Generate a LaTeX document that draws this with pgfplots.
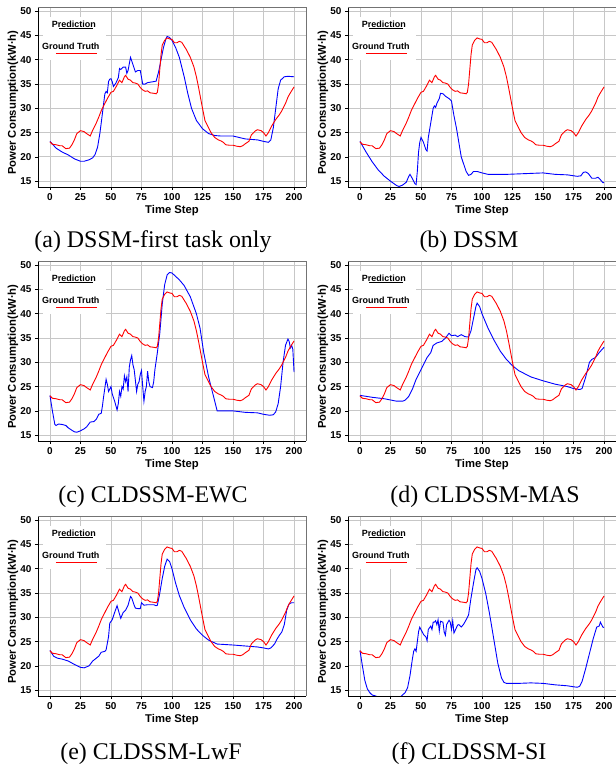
\documentclass[border=0pt]{standalone}
\usepackage{fontspec}
\setmainfont{Liberation Sans}
\newfontfamily\capfont{Liberation Serif}
\usepackage{pgfplots}
\usepackage{pgfplotstable}
\pgfplotsset{compat=1.18}

% ground truth, the same in every panel
\pgfplotstableread{
t v
0 23.1
2 22.6
5 22.5
8 22.3
10 22.3
13 21.7
16 21.8
18 22.5
20 23.5
22 24.8
25 25.4
28 25.2
30 24.8
33 24.3
35 25.5
38 27.0
40 28.2
42 29.5
45 31.0
47 32.0
50 33.3
52 33.5
55 34.8
57 35.8
59 35.3
61 36.5
62 36.8
64 36.0
66 35.8
68 35.3
70 35.2
72 35.0
74 34.3
76 33.8
78 33.5
80 33.6
82 33.2
85 33.1
87 33.0
88 33.3
89 35.0
90 38.0
91 41.0
92 43.0
94 44.0
96 44.5
98 44.3
100 44.2
102 43.5
104 43.5
106 43.8
108 43.6
110 42.8
112 42.0
115 40.5
118 38.5
120 36.5
122 34.0
125 30.0
127 27.5
130 26.0
132 25.0
135 24.0
138 23.5
140 23.3
142 23.0
144 22.5
147 22.4
150 22.4
153 22.2
156 22.1
158 22.3
160 22.7
163 23.2
165 24.5
168 25.3
170 25.6
173 25.4
175 25.0
177 24.3
179 25.0
182 26.5
185 27.7
188 28.7
190 29.5
193 31.0
195 32.3
197 33.2
200 34.4
}\truth

\pgfplotstableread{
t v
0 23.2
5 21.8
10 21.0
15 20.4
20 19.6
25 19.1
28 19.1
32 19.4
35 19.8
37 20.5
39 22.0
41 25.0
43 29.0
45 33.0
46 33.5
47 33.2
48 35.5
49 36.0
50 36.1
51 35.5
52 34.5
54 35.2
56 36.3
57 38.2
58 38.0
60 38.5
62 38.5
63 37.2
64 37.8
66 40.5
68 39.0
70 37.5
72 37.8
74 37.8
76 35.0
78 35.0
80 35.3
85 35.5
87 35.6
89 37.5
91 40.0
93 42.5
95 44.3
96 44.8
98 44.6
100 44.0
103 42.5
106 40.5
110 36.5
113 33.0
116 30.0
120 27.5
125 25.8
130 24.8
135 24.4
140 24.3
150 24.3
155 24.0
160 23.7
170 23.5
175 23.2
179 23.0
181 23.5
183 26.0
185 30.0
187 34.0
189 35.8
192 36.5
195 36.6
200 36.5
}\predA

\pgfplotstableread{
t v
0 23.2
5 21.0
10 19.0
15 17.3
20 16.0
25 15.0
30 14.1
32 13.9
35 14.2
38 14.8
40 16.0
41 16.4
43 15.5
45 14.5
46 14.3
47 17.0
48 21.0
49 23.0
50 24.0
52 23.0
54 21.5
55 21.2
56 24.0
58 27.0
60 30.0
61 30.5
62 30.2
63 31.0
65 32.0
66 33.1
68 33.0
70 32.5
73 32.0
75 31.5
77 28.5
79 26.0
81 23.0
83 20.0
85 18.5
87 17.0
89 16.2
91 16.4
93 17.0
96 17.0
100 16.7
105 16.4
120 16.4
150 16.7
160 16.4
170 16.3
178 16.0
181 16.1
183 16.8
185 16.9
187 16.6
190 15.6
193 15.6
195 15.8
197 15.3
199 14.7
200 14.7
}\predB

\pgfplotstableread{
t v
0 23.2
2 20.0
4 17.2
5 17.0
7 17.3
10 17.2
13 17.0
15 16.5
18 16.0
20 15.7
22 15.6
25 15.9
28 16.3
30 16.7
33 17.7
36 17.8
38 18.3
40 19.3
42 19.5
43 21.0
44 23.0
46 26.5
47 25.5
48 24.0
49 24.5
50 25.0
51 23.5
53 22.0
55 20.2
56 21.5
57 24.0
58 23.0
59 25.0
60 24.5
61 27.2
62 26.0
63 27.0
64 24.0
65 29.0
66 30.5
67 31.4
68 29.5
69 28.5
71 24.0
72 25.5
73 26.0
74 27.5
75 28.3
76 25.0
77 22.0
78 24.0
79 25.0
80 28.2
81 26.0
82 25.0
84 24.8
85 26.0
86 28.5
88 32.0
90 36.0
92 42.0
94 46.0
96 48.0
98 48.5
100 48.4
103 47.7
106 47.0
110 45.8
115 43.5
120 40.0
123 37.0
126 32.0
130 27.0
134 23.0
137 20.0
140 20.0
150 20.0
160 19.7
170 19.6
175 19.3
180 19.1
183 19.2
185 19.8
187 21.5
189 25.0
191 30.0
193 33.5
195 34.8
196 34.3
197 33.0
198 33.5
199 32.7
200 28.0
}\predC

\pgfplotstableread{
t v
0 23.2
10 22.8
20 22.5
30 22.0
35 22.0
37 22.2
40 23.0
43 24.5
46 26.5
50 28.5
55 31.0
58 32.0
60 33.5
63 34.0
67 34.3
70 35.0
73 36.0
75 35.5
78 35.6
80 35.3
83 35.7
86 35.3
89 35.2
91 36.5
93 39.0
95 41.5
96 42.2
98 41.5
100 40.0
105 37.0
110 34.5
115 32.3
120 30.6
125 29.3
130 28.3
140 27.0
150 26.2
160 25.5
170 25.0
175 24.6
180 24.4
182 24.6
185 27.0
188 30.0
190 30.6
193 31.0
196 32.0
200 33.1
}\predD

\pgfplotstableread{
t v
0 23.2
3 22.0
6 21.6
10 21.4
15 21.0
20 20.3
25 19.7
28 19.6
32 20.0
35 21.0
40 22.0
42 22.8
45 23.0
46 23.3
48 26.0
49 28.8
51 29.5
53 31.0
55 32.4
56 31.5
58 29.8
60 31.0
62 31.5
64 32.5
66 34.3
67 34.0
69 32.5
70 31.9
72 31.8
74 31.8
75 33.0
77 32.5
80 32.6
85 32.6
87 32.4
88 32.5
90 35.0
92 38.0
94 40.5
96 42.0
98 41.5
100 40.0
103 37.0
106 34.5
110 32.0
115 29.5
120 27.6
125 26.3
130 25.3
137 24.5
150 24.3
160 24.1
170 23.9
175 23.7
179 23.5
181 23.7
184 24.5
186 25.5
188 26.3
190 27.0
192 28.5
194 31.5
196 32.8
198 33.0
200 33.0
}\predE

\pgfplotstableread{
t v
0 23.2
2 20.0
4 17.0
6 15.3
8 14.5
10 14.0
13 13.8
15 13.5
20 12.5
30 13.0
34 13.8
37 14.5
39 15.5
41 18.0
43 21.5
44 23.0
45 23.5
46 23.0
47 25.0
48 27.0
49 28.0
50 27.5
52 26.5
54 26.0
55 25.2
56 27.5
58 28.2
59 27.5
60 29.0
61 29.0
62 29.3
63 28.5
64 29.5
65 27.2
66 29.2
68 29.0
69 27.0
70 26.3
71 28.5
73 29.4
74 29.0
75 27.5
76 29.3
77 26.8
78 27.3
80 28.4
81 28.5
83 28.0
85 28.6
87 29.5
89 30.5
91 34.0
93 37.0
95 39.8
96 40.2
98 39.5
100 38.0
103 35.0
106 31.0
110 25.0
113 20.5
116 17.5
118 16.6
120 16.4
130 16.4
140 16.5
150 16.4
160 16.1
170 15.9
175 15.7
178 15.6
180 15.8
182 16.8
185 19.5
188 22.5
191 25.5
194 28.0
196 28.2
197 29.0
198 28.5
199 28.0
200 27.9
}\predF

\pgfplotsset{
  panel/.style={
    scale only axis, width=268bp, height=179.4bp,
    anchor=south west,
    xmin=-9.8, xmax=209.8, ymin=13.8, ymax=50.75,
    xtick={0,25,...,200}, ytick={15,20,...,50},
    grid=major, major grid style={color=black!22, line width=0.9bp},
    axis x line*=bottom, axis y line*=left,
    axis line style={-, black, line width=0.8bp},
    tick align=outside, major tick length=3bp,
    tick style={black, line width=0.6bp},
    tick label style={font=\fontsize{10}{12}\selectfont\bfseries},
    /pgf/number format/assume math mode=true,
    xlabel={Time Step}, ylabel={Power Consumption(kW·h)},
    label style={font=\fontsize{11.3}{13}\selectfont\bfseries},
    xlabel style={at={(axis description cs:0.5,-0.13)}, anchor=center},
    ylabel style={at={(axis description cs:-0.093,0.47)}, anchor=center},
    clip mode=individual,
  },
  pred/.style={blue, line width=0.9bp},
  gt/.style={red, line width=0.9bp},
}

\newcommand{\extras}{%
  \draw[black!55, line width=0.8bp] (rel axis cs:0,1) -- (rel axis cs:1,1) -- (rel axis cs:1,0);
  \fill[white] (axis cs:-5.7,48.8) rectangle (axis cs:46,39.9);
  \node[font=\fontsize{9}{10}\selectfont\bfseries] at (axis cs:19.6,47.4) {Prediction};
  \draw[black, line width=0.8bp] (axis cs:7.3,46.5) -- (axis cs:35,46.5);
  \node[font=\fontsize{9}{10}\selectfont\bfseries] at (axis cs:17.1,42.8) {Ground Truth};
  \draw[red, line width=1bp] (axis cs:4.9,41.3) -- (axis cs:38.4,41.3);
}

\begin{document}
\begin{tikzpicture}
\path[use as bounding box] (0,0) rectangle (616bp,770bp);

\begin{axis}[panel, at={(38bp,583bp)}]
\addplot[pred] table[x=t,y=v] {\predA};
\addplot[gt] table[x=t,y=v] {\truth};
\extras
\end{axis}

\begin{axis}[panel, at={(348bp,583bp)}]
\addplot[pred] table[x=t,y=v] {\predB};
\addplot[gt] table[x=t,y=v] {\truth};
\extras
\end{axis}

\begin{axis}[panel, at={(38bp,329bp)}]
\addplot[pred] table[x=t,y=v] {\predC};
\addplot[gt] table[x=t,y=v] {\truth};
\extras
\end{axis}

\begin{axis}[panel, at={(348bp,329bp)}]
\addplot[pred] table[x=t,y=v] {\predD};
\addplot[gt] table[x=t,y=v] {\truth};
\extras
\end{axis}

\begin{axis}[panel, at={(38bp,74bp)}]
\addplot[pred] table[x=t,y=v] {\predE};
\addplot[gt] table[x=t,y=v] {\truth};
\extras
\end{axis}

\begin{axis}[panel, at={(348bp,74bp)}]
\addplot[pred] table[x=t,y=v] {\predF};
\addplot[gt] table[x=t,y=v] {\truth};
\extras
\end{axis}

\begin{scope}[every node/.style={font=\capfont\fontsize{24}{26}\selectfont, anchor=base}]
\node at (153bp,522bp) {(a) DSSM-first task only};
\node at (469bp,522bp) {(b) DSSM};
\node at (153bp,267bp) {(c) CLDSSM-EWC};
\node at (485bp,267bp) {(d) CLDSSM-MAS};
\node at (151bp,11bp) {(e) CLDSSM-LwF};
\node at (469bp,11bp) {(f) CLDSSM-SI};
\end{scope}
\end{tikzpicture}
\end{document}
